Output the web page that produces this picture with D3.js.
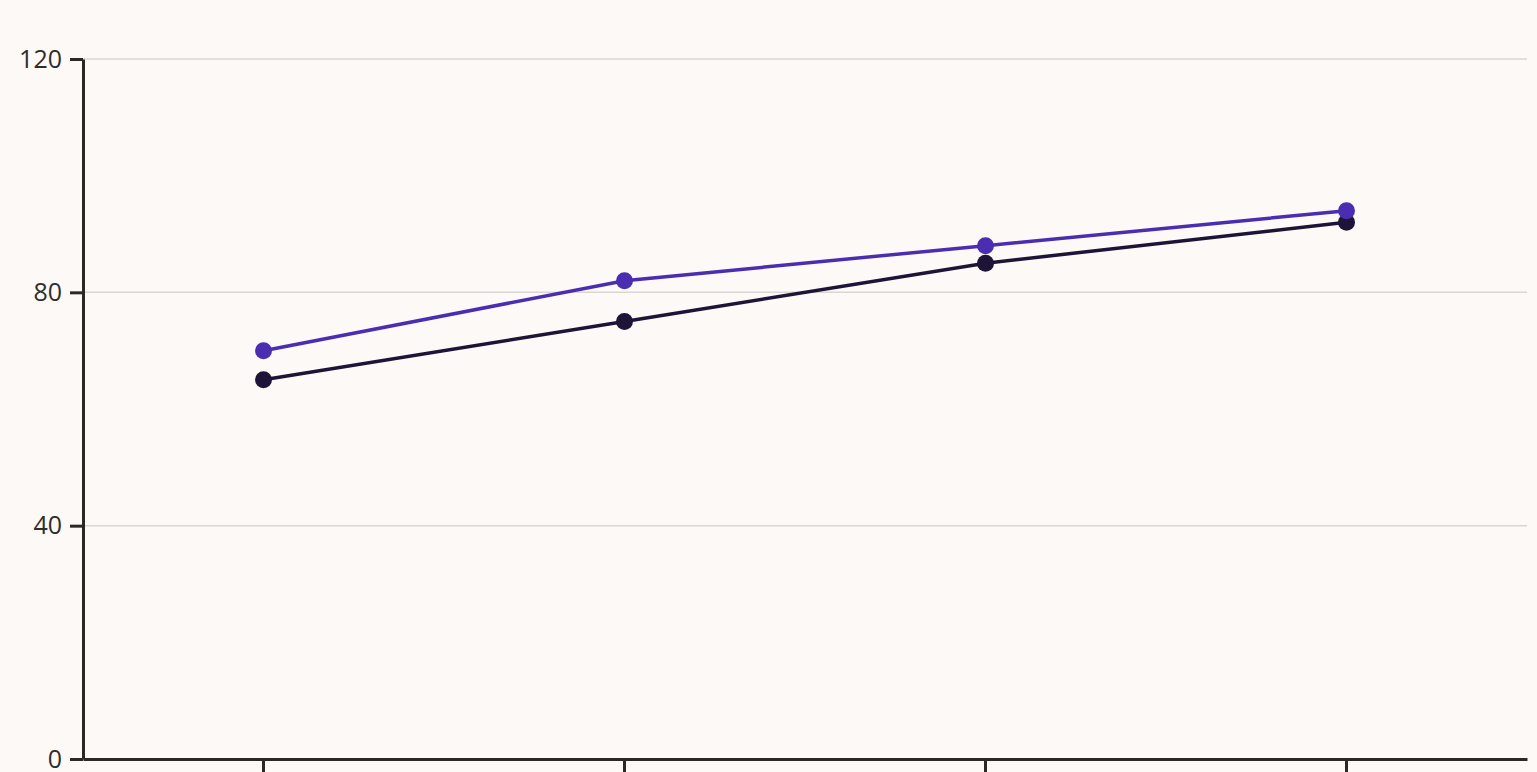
<!DOCTYPE html>
<html>
<head>
<meta charset="utf-8">
<script src="https://cdn.jsdelivr.net/npm/d3@7"></script>
<style>
  html, body { margin: 0; padding: 0; background: #fdf9f6; overflow: hidden; }
  svg { display: block; }
  .tick text { font-family: "Open Sans", "Noto Sans", sans-serif; }
</style>
</head>
<body>
<svg id="chart"></svg>
<script>
const categories = ["Q1", "Q2", "Q3", "Q4"];
const seriesA = [65, 75, 85, 92];   // dark line
const seriesB = [70, 82, 88, 94];   // purple line
const yTicks = [0, 40, 80, 120];

const width = 1537;
const height = 772;
const margin = { top: 59, right: 10, bottom: 13, left: 83 };

const svg = d3.select("#chart")
  .attr("width", width)
  .attr("height", height);

const x = d3.scaleBand()
  .domain(categories)
  .range([margin.left, width - margin.right])
  .padding(0);

const y = d3.scaleLinear()
  .domain([0, 120])
  .range([height - margin.bottom, margin.top]);

// gridlines
svg.append("g")
  .selectAll("line")
  .data(yTicks.filter(d => d > 0))
  .join("line")
  .attr("x1", margin.left)
  .attr("x2", width - margin.right)
  .attr("y1", d => y(d))
  .attr("y2", d => y(d))
  .attr("stroke", "#d9d6d3")
  .attr("stroke-width", 1.5);

// y axis
const yAxis = svg.append("g")
  .attr("transform", `translate(${margin.left},0)`)
  .call(d3.axisLeft(y).tickValues(yTicks).tickSize(13).tickSizeOuter(0));
yAxis.select(".domain").attr("stroke", "#2b2927").attr("stroke-width", 3);
yAxis.selectAll(".tick line").attr("stroke", "#2b2927").attr("stroke-width", 3);
yAxis.selectAll(".tick text")
  .attr("fill", "#2f2d2b")
  .attr("x", -21)
  .style("font-size", "25px");

// x axis (category labels sit below the visible area in the reference)
const xAxis = svg.append("g")
  .attr("transform", `translate(0,${y(0)})`)
  .call(d3.axisBottom(x).tickSize(14).tickSizeOuter(0).tickFormat(""));
xAxis.select(".domain").attr("stroke", "#2b2927").attr("stroke-width", 3);
xAxis.selectAll(".tick line").attr("stroke", "#2b2927").attr("stroke-width", 3);

const cx = (d, i) => x(categories[i]) + x.bandwidth() / 2;

const line = d3.line()
  .x((d, i) => cx(d, i))
  .y(d => y(d));

const series = [
  { values: seriesA, color: "#1d1437" },
  { values: seriesB, color: "#4a2db1" }
];

series.forEach(s => {
  const g = svg.append("g");
  g.append("path")
    .datum(s.values)
    .attr("fill", "none")
    .attr("stroke", s.color)
    .attr("stroke-width", 3.5)
    .attr("d", line);
  g.selectAll("circle")
    .data(s.values)
    .join("circle")
    .attr("cx", cx)
    .attr("cy", d => y(d))
    .attr("r", 8.5)
    .attr("fill", s.color);
});
</script>
</body>
</html>
